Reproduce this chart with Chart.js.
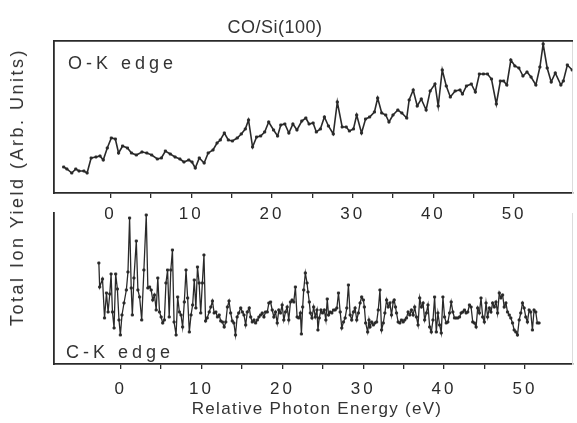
<!DOCTYPE html>
<html>
<head>
<meta charset="utf-8">
<script src="https://cdn.jsdelivr.net/npm/chart.js@4.4.1/dist/chart.umd.min.js"></script>
<style>
  body { margin:0; background:#fff; width:577px; height:423px; position:relative; overflow:hidden;
         font-family:"Liberation Sans", Arial, sans-serif; color:#333; }
  canvas { position:absolute; left:0; }
  #top-chart { top:0; }
  #bot-chart { top:205px; }
  .lbl { position:absolute; white-space:nowrap; line-height:1; transform:translate(-50%,-50%); }
  .edge { position:absolute; white-space:nowrap; line-height:1; transform:translateY(-50%);
          font-size:18px; letter-spacing:4px; }
</style>
</head>
<body>
<canvas id="top-chart" width="577" height="225"></canvas>
<canvas id="bot-chart" width="577" height="218"></canvas>
<div class="lbl" style="left:275px;top:27px;font-size:18px;letter-spacing:0.5px">CO/Si(100)</div>
<div class="lbl" style="left:17px;top:187px;font-size:18px;letter-spacing:2.5px;transform:translate(-50%,-50%) rotate(-90deg)">Total Ion Yield (Arb. Units)</div>
<div class="lbl" style="left:317px;top:408px;font-size:17px;letter-spacing:1.3px">Relative Photon Energy (eV)</div>
<div class="edge" style="left:68px;top:63px">O-K edge</div>
<div class="edge" style="left:66px;top:352px">C-K edge</div>
<script>
const INK = "#2a2a2a";
const FONT = "'Liberation Sans', Arial, sans-serif";

// O-K edge (upper panel), energy in eV relative to edge, yield in arb. units
const okEnergy = [
  -5.8,-5.4,-4.8,-4.3,-3.9,-3.3,-2.9,-2.4,-1.8,-1.3,
  -0.9,-0.4,0.1,0.6,1.0,1.5,2.1,2.6,3.2,3.9,
  4.5,5.1,5.8,6.3,6.8,7.4,8.0,8.6,9.1,9.7,
  10.1,10.5,11.0,11.6,12.1,12.7,13.2,13.6,14.1,
  14.6,15.1,15.7,16.2,16.7,17.1,17.6,18.1,18.6,19.1,
  19.6,20.2,20.7,21.1,21.6,22.1,22.6,23.1,23.7,24.2,
  24.6,25.1,25.5,26.0,26.5,27.0,27.6,28.1,28.7,29.2,
  29.6,30.1,30.5,31.1,31.6,32.1,32.7,33.1,33.6,34.1,
  34.5,
  35.0,35.6,36.1,36.7,37.0,37.5,38.0,38.5,39.1,39.6,
  40.2,40.6,41.1,41.6,42.1,42.7,43.3,43.6,44.1,44.7,
  45.2,45.7,46.2,46.7,47.2,47.8,48.3,48.7,49.1,49.6,
  50.1,50.6,51.1,51.6,52.1,52.7,53.2,53.6,54.1,54.6,
  55.1,55.8,56.1,56.6,57.2
];
const okYield = [
  26,24,20,24,22,22,20,35,36,37,
  33,45,55,54,40,47,45,40,38,41,
  40,38,34,35,42,39,36,34,31,33,
  31,25,35,30,40,43,50,53,60,
  53,52,55,59,64,73,46,56,57,61,
  71,63,57,68,69,60,69,63,72,75,
  69,70,61,64,76,67,59,91,66,66,
  62,64,78,60,74,76,81,95,80,78,
  71,
  78,83,80,75,93,103,87,94,83,102,
  109,87,123,107,96,102,103,99,107,109,
  101,119,119,119,114,89,112,112,108,133,
  127,125,117,121,116,108,126,149,125,111,
  120,108,112,128,123
];

// C-K edge (lower panel)
const ckEnergy = [
  -2.7,-2.6,-2.25,-2.0,-1.76,-1.56,-1.35,-1.19,-1.02,-0.82,
  -0.62,-0.41,-0.21,-0.04,0.16,0.41,0.70,0.90,1.1,1.3,
  1.44,1.64,1.93,2.13,2.34,2.6,2.87,3.16,3.36,3.57,
  3.77,3.97,4.18,4.39,4.59,4.8,5.0,5.2,5.4,5.6,
  5.8,6.0,6.2,6.4,6.6,6.85,7.05,7.26,7.46,7.66,
  7.87,8.08,8.28,8.49,8.7,8.9,9.1,9.3,9.5,9.7,
  9.9,10.1,10.3,10.5,10.7,10.95,11.15,11.35,11.56,11.77,
  11.97,12.18,12.38,12.58,12.8,13.0,13.2,13.4,13.6,13.8,
  14.0,14.2,14.4,14.6,14.85,15.05,15.25,15.46,15.66,15.9,
  16.08,16.28,16.49,16.69,16.90,17.10,17.31,17.51,17.72,17.92,
  18.13,18.33,18.54,18.74,18.95,19.15,19.36,19.56,19.77,19.97,
  20.18,20.38,20.59,20.79,21.00,21.20,21.41,21.61,21.82,22.02,
  22.23,22.35,22.51,22.64,22.84,23.05,23.17,23.33,23.46,23.66,
  23.87,24.07,24.28,24.40,24.56,24.77,24.97,25.18,25.38,25.55,
  25.71,25.92,26.12,26.33,26.53,26.74,26.94,27.15,27.35,27.56,
  27.76,27.97,28.17,28.38,28.58,28.79,28.99,29.20,29.40,29.61,
  29.81,30.02,30.14,30.30,30.55,30.71,30.84,31.04,31.25,31.45,
  31.66,31.86,32.07,32.27,32.48,32.68,32.89,
  33.09,33.30,33.50,33.71,33.83,33.99,34.12,34.32,34.53,34.73,
  34.94,35.14,35.35,35.55,35.76,35.96,36.17,36.37,36.58,36.78,
  36.99,37.19,37.40,37.60,37.81,38.01,38.22,38.42,38.63,38.83,
  39.04,39.24,39.45,39.65,39.86,40.06,40.27,40.47,40.68,40.88,
  41.09,41.29,41.50,41.70,41.91,42.11,42.32,42.52,42.73,42.93,
  43.14,43.34,43.55,43.75,43.96,44.16,44.37,44.57,44.78,44.98,
  45.19,45.39,45.60,45.80,46.01,46.21,46.42,46.62,46.83,47.03,
  47.24,47.44,47.65,47.85,48.06,48.26,48.47,48.67,48.88,49.08,
  49.29,49.49,49.70,49.90,50.11,50.31,50.52,50.72,50.93,51.13,
  51.34,51.54,51.75
];
const ckYield = [
  101,77,85,46,71,52,70,90,52,36,
  90,75,44,29,49,61,74,92,146,76,
  49,86,123,74,67,44,94,149,76,77,
  74,64,69,54,86,52,47,41,44,81,
  94,47,94,114,42,29,67,52,49,37,
  62,94,66,32,49,59,84,56,97,81,
  51,81,109,43,46,52,57,63,51,52,
  47,49,43,42,37,42,57,63,51,43,
  41,29,47,51,56,52,49,39,52,56,
  47,42,44,41,44,47,49,51,47,52,
  52,61,62,54,47,52,41,54,51,59,
  44,52,57,44,62,64,62,77,47,46,
  51,30,57,74,91,81,72,62,51,46,
  57,47,54,34,46,54,51,54,44,65,
  49,52,51,54,54,56,71,52,36,42,
  46,56,79,49,44,52,56,44,51,61,
  67,64,57,41,32,44,37,42,39,41,
  42,54,74,34,41,51,64,
  57,61,49,62,64,57,51,42,41,44,
  42,44,46,52,49,54,49,57,47,39,
  66,57,61,44,51,59,37,32,44,67,
  32,51,39,31,67,47,41,42,51,62,
  52,46,46,46,47,51,52,54,51,52,
  59,57,42,41,37,56,51,66,47,42,
  61,47,56,52,61,57,62,51,71,66,
  69,57,61,52,49,46,41,34,32,29,
  44,51,61,56,47,42,54,52,34,54,
  52,41,41
];

if (okEnergy.length !== okYield.length || ckEnergy.length !== ckYield.length) {
  throw new Error(`length mismatch ok ${okEnergy.length}/${okYield.length} ck ${ckEnergy.length}/${ckYield.length}`);
}

const spacing = { id: "spacing", beforeDraw: c => { c.ctx.letterSpacing = "3px"; } };

function series(xs, ys, w) {
  return {
    data: xs.map((x, i) => ({ x, y: ys[i] })),
    borderColor: INK, borderWidth: w, tension: 0,
    pointStyle: "rect", pointRadius: 1.5, pointBorderWidth: 0.8,
    pointBackgroundColor: INK, pointBorderColor: INK
  };
}

function panel(id, xs, ys, o) {
  const scales = {
    x: {
      type: "linear", min: o.xMin, max: o.xMax,
      afterFit: s => { s.height = o.axisH; },
      afterBuildTicks: s => { s.ticks = s.ticks.filter(t => t.value % 5 === 0); },
      ticks: { stepSize: 5, autoSkip: false, maxRotation: 0, color: INK, padding: o.tickPad,
               font: { family: FONT, size: 17 }, callback: v => (v % 10 === 0 ? v : "") },
      grid: { display: true, drawOnChartArea: false, tickLength: 5, color: INK, lineWidth: 1.3 },
      border: { display: true, color: INK, width: 1.8 }
    },
    y: {
      min: 0, max: o.yMax,
      afterFit: s => { s.width = 0; },
      ticks: { display: false }, grid: { display: false },
      border: { display: true, color: INK, width: 1.8 }
    },
    yr: {
      position: "right", min: 0, max: o.yMax,
      afterFit: s => { s.width = 0; },
      ticks: { display: false }, grid: { display: false },
      border: { display: true, color: "#dcdcdc", width: 1 }
    }
  };
  if (o.topBorder) {
    scales.xt = {
      type: "linear", position: "top", min: o.xMin, max: o.xMax,
      afterFit: s => { s.height = 0; },
      ticks: { display: false }, grid: { display: false },
      border: { display: true, color: INK, width: 1.8 }
    };
  }
  return new Chart(document.getElementById(id), {
    type: "line",
    data: { datasets: [series(xs, ys, o.lineW)] },
    options: {
      responsive: false, animation: false,
      layout: { padding: { top: o.padTop, left: 54, right: 2, bottom: 0 } },
      plugins: { legend: { display: false }, tooltip: { enabled: false } },
      scales
    },
    plugins: [spacing]
  });
}

panel("top-chart", okEnergy, okYield,
      { xMin: -7, xMax: 57.2, yMax: 152, padTop: 41, axisH: 32, tickPad: 6, topBorder: true, lineW: 1.6 });
panel("bot-chart", ckEnergy, ckYield,
      { xMin: -8.25, xMax: 55.85, yMax: 151, padTop: 8, axisH: 59, tickPad: 10, topBorder: false, lineW: 1.3 });
</script>
</body>
</html>
